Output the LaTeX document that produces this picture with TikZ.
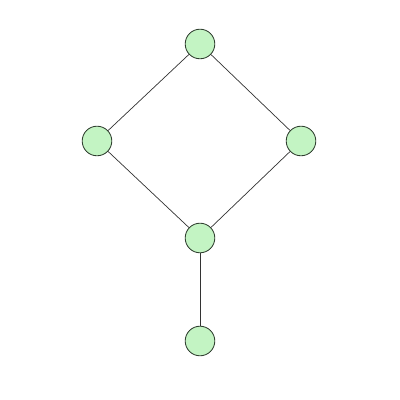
\documentclass[tikz,border=0pt]{standalone}
\usepackage{tikz}
\usetikzlibrary{positioning}
\definecolor{vfill}{RGB}{195,244,195}
\definecolor{vdraw}{RGB}{45,60,45}
\tikzstyle{vertex}=[circle, draw=vdraw, fill=vfill, minimum size=0.74cm, inner sep=0pt, line width=0.6pt]

\begin{document}
\begin{tikzpicture}[x=0.025cm, y=0.025cm]
			\useasboundingbox (0,0) rectangle (400,400);
			\node (T) at (200,356) [vertex] {};
			\node (L) at (97,259) [vertex] {};
			\node (R) at (301,259) [vertex] {};
			\node (M) at (200,162) [vertex] {};
			\node (B) at (200,59) [vertex] {};
			\path[draw=black!80, line width=0.5pt]
				(T) edge (L)
				(T) edge (R)
				(L) edge (M)
				(R) edge (M)
				(M) edge (B);
	\end{tikzpicture}
\end{document}
